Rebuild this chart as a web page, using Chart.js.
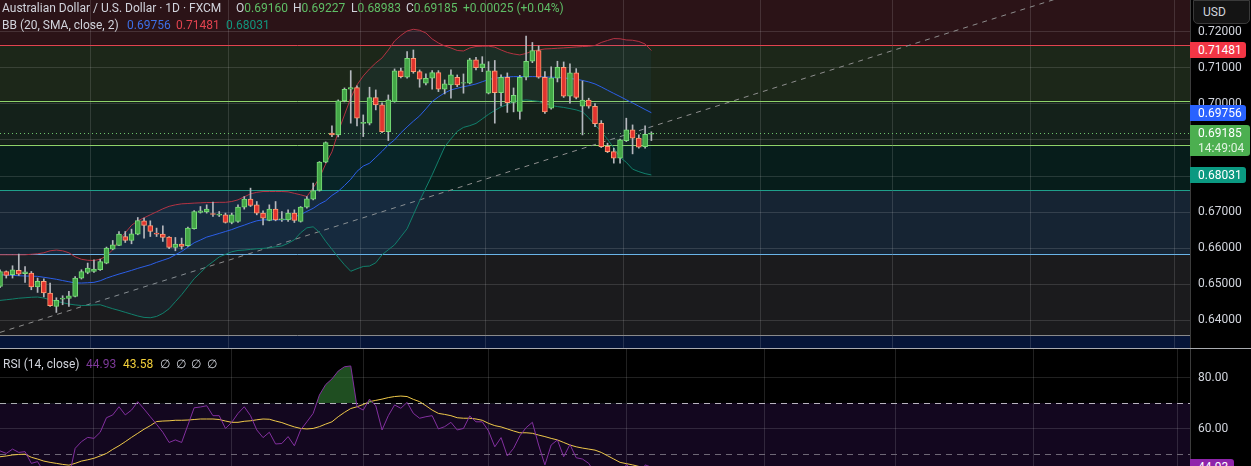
<!DOCTYPE html>
<html>
<head>
<meta charset="utf-8">
<script src="https://cdn.jsdelivr.net/npm/chart.js@4.4.0/dist/chart.umd.min.js"></script>
<style>
  body { margin: 0; background: #000; width: 1251px; height: 466px; overflow: hidden; position: relative; font-family: Roboto, "Noto Sans", sans-serif; }
  #main { position: absolute; left: 0; top: 0; }
  #rsi { position: absolute; left: 0; top: 349px; }
  #sep { position: absolute; left: 0; top: 348px; width: 1251px; height: 1px; background: #a9abb0; }
  .txt { position: absolute; font-size: 12px; line-height: 16px; color: #d1d4dc; white-space: pre; }
  .tag { position: absolute; left: 1190px; width: 56px; box-sizing: border-box; padding-left: 8px; font-size: 12px; line-height: 16px; color: #fff; border-radius: 0 3px 3px 0; }
  #usd { position: absolute; left: 1193px; top: 0; width: 57px; height: 24px; box-sizing: border-box; background: #141414; border: 1px solid #3a3a3a; border-radius: 0 0 5px 5px; color: #d1d4dc; font-size: 12px; line-height: 22px; padding-left: 9px; }
</style>
</head>
<body>
<canvas id="main" width="1251" height="348"></canvas>
<div id="sep"></div>
<canvas id="rsi" width="1251" height="117"></canvas>
<div id="usd">USD</div>
<script>
// daily slots: 105 sessions drawn, the rest is empty space on the right
const days = Array.from({ length: 191 }, (_, i) => String(i));
const monthStarts = [15, 37, 58, 78, 100, 122, 143, 165, 188];

const opens = [
  0.64939, 0.65355, 0.65263, 0.65383, 0.65291, 0.65311, 0.64923, 0.65078, 0.64757, 0.64385,
  0.64590, 0.64607, 0.64662, 0.65172, 0.65327, 0.65355, 0.65402, 0.65588, 0.65975, 0.66075,
  0.66324, 0.66214, 0.66391, 0.66759, 0.66629, 0.66419, 0.66391, 0.66308, 0.66020, 0.66114,
  0.66067, 0.66538, 0.66989, 0.67009, 0.66961, 0.66917, 0.66925, 0.66712, 0.66740, 0.67139,
  0.67360, 0.67202, 0.66973, 0.66768, 0.67083, 0.66787, 0.66787, 0.66973, 0.66740, 0.67139,
  0.67360, 0.67599, 0.68385, 0.69189, 0.69141, 0.70083, 0.70407, 0.70452, 0.69460, 0.69466,
  0.70175, 0.69972, 0.69233, 0.70064, 0.70914, 0.70740, 0.71266, 0.70895, 0.70574, 0.70712,
  0.70867, 0.70407, 0.70526, 0.70740, 0.70574, 0.70574, 0.71219, 0.71006, 0.70297, 0.70914,
  0.70313, 0.70740, 0.70042, 0.69792, 0.70740, 0.71183, 0.71482, 0.70740, 0.69881, 0.70712,
  0.71017, 0.70213, 0.70859, 0.69936, 0.70103, 0.69936, 0.69460, 0.68823, 0.68679, 0.68496,
  0.68984, 0.69280, 0.69050, 0.68817, 0.69160
];
const highs = [
  0.65402, 0.65370, 0.65513, 0.65837, 0.65493, 0.65355, 0.65172, 0.65153, 0.65034, 0.64626,
  0.64682, 0.64801, 0.65216, 0.65402, 0.65588, 0.65679, 0.65698, 0.66031, 0.66214, 0.66463,
  0.66463, 0.66529, 0.66851, 0.66834, 0.66759, 0.66557, 0.66621, 0.66324, 0.66297, 0.66280,
  0.66585, 0.67045, 0.67155, 0.67202, 0.67277, 0.67017, 0.66973, 0.66973, 0.67202, 0.67432,
  0.67665, 0.67294, 0.67036, 0.67202, 0.67294, 0.67017, 0.67064, 0.67064, 0.67155, 0.67432,
  0.67804, 0.68402, 0.68948, 0.69391, 0.70111, 0.70443, 0.70923, 0.70499, 0.69695, 0.70463,
  0.70388, 0.70028, 0.70249, 0.70970, 0.70997, 0.71449, 0.71496, 0.70942, 0.70831, 0.70923,
  0.70923, 0.70665, 0.70942, 0.70803, 0.70831, 0.71266, 0.71294, 0.71310, 0.71172, 0.71205,
  0.70803, 0.70859, 0.70443, 0.70790, 0.71884, 0.71704, 0.71607, 0.70895, 0.71025, 0.71183,
  0.71164, 0.71108, 0.70978, 0.70637, 0.70158, 0.70006, 0.69538, 0.68912, 0.68773, 0.69022,
  0.69604, 0.69418, 0.69141, 0.69391, 0.69227
];
const lows = [
  0.64903, 0.65172, 0.65172, 0.65244, 0.65050, 0.64848, 0.64773, 0.64646, 0.64385, 0.64219,
  0.64432, 0.64385, 0.64646, 0.65144, 0.65291, 0.65327, 0.65383, 0.65568, 0.65956, 0.66067,
  0.66158, 0.66122, 0.66371, 0.66280, 0.66324, 0.66324, 0.66186, 0.65984, 0.65928, 0.65975,
  0.66047, 0.66529, 0.66973, 0.66973, 0.66878, 0.66878, 0.66696, 0.66676, 0.66712, 0.67083,
  0.67155, 0.66925, 0.66648, 0.66759, 0.66759, 0.66740, 0.66740, 0.66712, 0.66723, 0.67111,
  0.67341, 0.67582, 0.68366, 0.69094, 0.69086, 0.70056, 0.69466, 0.69391, 0.69094, 0.69418,
  0.69834, 0.69205, 0.68984, 0.70047, 0.70720, 0.70712, 0.70851, 0.70463, 0.70526, 0.70407,
  0.70341, 0.70277, 0.70158, 0.70479, 0.70297, 0.70554, 0.70942, 0.70895, 0.70277, 0.69466,
  0.69945, 0.69765, 0.69779, 0.69576, 0.70665, 0.71144, 0.70712, 0.69737, 0.69853, 0.70610,
  0.70180, 0.70020, 0.70139, 0.69141, 0.69881, 0.69371, 0.68790, 0.68651, 0.68358, 0.68358,
  0.68956, 0.68615, 0.68773, 0.68773, 0.68983
];
const closes = [
  0.65355, 0.65244, 0.65402, 0.65283, 0.65347, 0.64923, 0.65078, 0.64757, 0.64405, 0.64552,
  0.64618, 0.64682, 0.65172, 0.65355, 0.65449, 0.65421, 0.65632, 0.66003, 0.66094, 0.66391,
  0.66214, 0.66399, 0.66768, 0.66629, 0.66463, 0.66391, 0.66297, 0.66020, 0.66114, 0.66047,
  0.66557, 0.67017, 0.67036, 0.67083, 0.66934, 0.66945, 0.66712, 0.66925, 0.67139, 0.67360,
  0.67183, 0.66973, 0.66834, 0.67083, 0.66787, 0.66815, 0.66973, 0.66768, 0.67139, 0.67369,
  0.67599, 0.68385, 0.68928, 0.69141, 0.70083, 0.70407, 0.70452, 0.69604, 0.69488, 0.70175,
  0.69972, 0.69233, 0.70111, 0.70914, 0.70756, 0.71266, 0.70895, 0.70684, 0.70712, 0.70867,
  0.70407, 0.70554, 0.70803, 0.70526, 0.70590, 0.71219, 0.71006, 0.71108, 0.70914, 0.70313,
  0.70740, 0.70036, 0.70236, 0.70740, 0.71183, 0.71482, 0.70740, 0.69779, 0.70726, 0.71017,
  0.70213, 0.70859, 0.70180, 0.70103, 0.69936, 0.69455, 0.68817, 0.68679, 0.68496, 0.69003,
  0.69280, 0.69050, 0.68801, 0.69160, 0.69185
];

// Bollinger Bands (20, SMA, close, 2)
const bbUpper = [
  0.65817, 0.65817, 0.65817, 0.65817, 0.65817, 0.65831, 0.65845, 0.65873, 0.65928, 0.65948,
  0.65928, 0.65873, 0.65762, 0.65693, 0.65665, 0.65660, 0.65693, 0.65790, 0.65956, 0.66233,
  0.66427, 0.66635, 0.66759, 0.66842, 0.66926, 0.67009, 0.67092, 0.67161, 0.67202, 0.67230,
  0.67239, 0.67250, 0.67258, 0.67266, 0.67266, 0.67272, 0.67272, 0.67294, 0.67341, 0.67424,
  0.67507, 0.67549, 0.67571, 0.67571, 0.67571, 0.67571, 0.67563, 0.67521, 0.67480, 0.67433,
  0.67673, 0.67950, 0.68338, 0.68671, 0.69225, 0.69696, 0.70166, 0.70527, 0.70776, 0.70970,
  0.71136, 0.71275, 0.71496, 0.71745, 0.71898, 0.72022, 0.72069, 0.72042, 0.71967, 0.71801,
  0.71690, 0.71607, 0.71551, 0.71482, 0.71468, 0.71551, 0.71593, 0.71598, 0.71601, 0.71574,
  0.71496, 0.71427, 0.71385, 0.71358, 0.71399, 0.71468, 0.71496, 0.71524, 0.71532, 0.71543,
  0.71554, 0.71565, 0.71579, 0.71590, 0.71598, 0.71620, 0.71704, 0.71759, 0.71812, 0.71806,
  0.71773, 0.71765, 0.71731, 0.71662, 0.71481
];
const bbBasis = [
  0.65263, 0.65255, 0.65247, 0.65236, 0.65230, 0.65225, 0.65219, 0.65194, 0.65167, 0.65139,
  0.65103, 0.65070, 0.65036, 0.65034, 0.65042, 0.65053, 0.65097, 0.65169, 0.65228, 0.65283,
  0.65333, 0.65385, 0.65441, 0.65491, 0.65540, 0.65607, 0.65665, 0.65723, 0.65817, 0.65909,
  0.66028, 0.66150, 0.66227, 0.66308, 0.66358, 0.66410, 0.66463, 0.66516, 0.66582, 0.66640,
  0.66704, 0.66759, 0.66787, 0.66787, 0.66787, 0.66787, 0.66798, 0.66865, 0.66931, 0.67020,
  0.67106, 0.67222, 0.67313, 0.67463, 0.67576, 0.67737, 0.67909, 0.68131, 0.68277, 0.68355,
  0.68518, 0.68685, 0.68865, 0.69003, 0.69197, 0.69363, 0.69521, 0.69668, 0.69862, 0.70064,
  0.70194, 0.70305, 0.70388, 0.70435, 0.70477, 0.70510, 0.70554, 0.70615, 0.70676, 0.70709,
  0.70740, 0.70748, 0.70757, 0.70757, 0.70757, 0.70757, 0.70757, 0.70748, 0.70743, 0.70731,
  0.70720, 0.70704, 0.70684, 0.70651, 0.70610, 0.70554, 0.70471, 0.70380, 0.70291, 0.70205,
  0.70114, 0.70028, 0.69937, 0.69845, 0.69756
];
const bbLower = [
  0.64552, 0.64571, 0.64590, 0.64613, 0.64626, 0.64640, 0.64646, 0.64618, 0.64571, 0.64530,
  0.64488, 0.64452, 0.64427, 0.64411, 0.64413, 0.64427, 0.64432, 0.64377, 0.64322, 0.64275,
  0.64222, 0.64170, 0.64120, 0.64081, 0.64072, 0.64108, 0.64194, 0.64322, 0.64516, 0.64710,
  0.64931, 0.65153, 0.65319, 0.65493, 0.65624, 0.65757, 0.65829, 0.65901, 0.65937, 0.65948,
  0.65967, 0.65984, 0.65995, 0.66011, 0.66039, 0.66061, 0.66136, 0.66233, 0.66427, 0.66565,
  0.66593, 0.66441, 0.66191, 0.65970, 0.65748, 0.65540, 0.65360, 0.65430, 0.65493, 0.65505,
  0.65596, 0.65817, 0.65956, 0.66094, 0.66316, 0.66538, 0.66926, 0.67313, 0.67673, 0.68034,
  0.68421, 0.68809, 0.69030, 0.69238, 0.69349, 0.69396, 0.69460, 0.69585, 0.69710, 0.69820,
  0.69917, 0.69981, 0.70064, 0.70089, 0.70111, 0.70092, 0.70070, 0.70014, 0.69959, 0.69926,
  0.69903, 0.69870, 0.69834, 0.69779, 0.69612, 0.69418, 0.69230, 0.69017, 0.68781, 0.68518,
  0.68380, 0.68191, 0.68122, 0.68067, 0.68031
];

// RSI (14, close) and its moving average
const rsi = [
  51.3, 50.3, 52.0, 50.7, 51.0, 46.4, 47.1, 43.0, 37.5, 39.0,
  40.0, 41.0, 52.3, 54.9, 56.6, 56.2, 58.6, 64.3, 65.4, 68.6,
  65.4, 67.3, 70.6, 67.7, 64.7, 61.7, 58.6, 54.6, 55.6, 54.6,
  61.4, 68.2, 68.5, 69.0, 65.1, 65.1, 60.1, 62.5, 66.0, 68.6,
  65.1, 59.5, 56.5, 58.6, 54.0, 54.2, 56.9, 53.3, 59.5, 62.7,
  66.0, 73.2, 77.3, 79.5, 82.6, 84.3, 84.6, 68.6, 67.3, 71.6,
  69.0, 59.5, 65.1, 69.3, 68.0, 70.3, 66.0, 64.1, 64.7, 65.1,
  59.9, 60.8, 62.5, 59.5, 60.1, 65.0, 62.7, 62.7, 59.1, 52.9,
  56.5, 49.3, 52.3, 57.2, 60.4, 62.5, 53.6, 45.8, 53.6, 55.6,
  49.0, 53.8, 48.6, 48.1, 46.4, 42.5, 36.0, 34.5, 31.5, 40.5,
  46.0, 43.5, 39.5, 45.8, 44.93
];
const rsiMa = [
  49.0, 49.3, 49.7, 49.9, 50.0, 48.8, 48.1, 47.3, 46.8, 46.4,
  46.0, 45.7, 46.4, 47.3, 47.8, 48.4, 49.3, 50.3, 51.9, 53.3,
  54.9, 56.6, 58.2, 59.8, 61.2, 62.8, 63.0, 63.1, 63.3, 63.3,
  63.4, 63.6, 63.8, 63.8, 63.8, 63.6, 63.0, 62.5, 62.5, 62.9,
  63.1, 63.5, 63.8, 63.7, 63.0, 62.4, 61.5, 60.7, 60.1, 59.9,
  60.1, 60.8, 61.8, 62.7, 64.7, 66.4, 67.9, 68.6, 69.5, 70.6,
  71.1, 71.6, 72.2, 72.6, 72.8, 72.6, 71.5, 70.6, 69.0, 67.3,
  66.0, 65.6, 65.1, 64.3, 64.1, 64.1, 63.8, 63.3, 62.1, 61.2,
  60.7, 59.9, 59.1, 58.4, 58.4, 58.2, 57.5, 56.9, 56.2, 55.6,
  54.6, 53.6, 52.9, 52.4, 52.0, 51.6, 50.7, 49.4, 48.1, 46.8,
  46.3, 45.8, 45.2, 44.4, 43.58
];

// drawn levels, trend line, axis ticks
const levelPrices = [0.71634, 0.70083, 0.68865, 0.67610, 0.65837, 0.63582];
const trendStart = 0.63665;
const trendEnd = 0.74083;
const priceTicks = [0.64, 0.65, 0.66, 0.67, 0.68, 0.69, 0.70, 0.71, 0.72];
const rsiTicks = [60, 80];
const timeLeft = '14:49:04';

// styles
const levelColors = ['#e2434f', '#8fd36a', '#8fd36a', '#1f9f8b', '#6ab4e8', '#8a8a8a'];
const bandColors = ['#2b1317', '#1c2719', '#14211a', '#071d1b', '#162433', '#1b1b1d', '#061538'];
const gridColor = 'rgba(255,255,255,0.13)';
const font = { family: 'Roboto, "Noto Sans", sans-serif', size: 12 };

const last = closes.length - 1;
const up = closes.map((c, i) => c >= opens[i]);
const trend = days.map((d, i) => i === 0 ? trendStart : (i === days.length - 1 ? trendEnd : null));

// the scales must fill the canvas exactly, no label padding
const noPad = (s) => { s.paddingTop = 0; s.paddingBottom = 0; s.paddingLeft = 0; s.paddingRight = 0; };

const xScale = {
  offset: false,
  ticks: { display: false, autoSkip: false },
  grid: { drawTicks: false, color: (c) => monthStarts.includes(c.index) ? gridColor : 'transparent' },
  border: { display: false },
  afterFit: (s) => { s.height = 0; noPad(s); },
};

const bands = {
  id: 'bands',
  beforeDraw(chart) {
    const { ctx, chartArea: a, scales: { y } } = chart;
    const edges = [a.top, ...levelPrices.map((v) => y.getPixelForValue(v)), a.bottom];
    ctx.save();
    bandColors.forEach((c, i) => {
      ctx.fillStyle = c;
      ctx.fillRect(a.left, edges[i], a.width, edges[i + 1] - edges[i]);
    });
    ctx.restore();
  },
  beforeDatasetsDraw(chart) {
    const { ctx, chartArea: a, scales: { y } } = chart;
    ctx.save();
    ctx.lineWidth = 1;
    levelPrices.forEach((v, i) => {
      const py = Math.round(y.getPixelForValue(v)) + 0.5;
      ctx.strokeStyle = levelColors[i];
      ctx.beginPath(); ctx.moveTo(a.left, py); ctx.lineTo(a.right, py); ctx.stroke();
    });
    // last price line
    const py = Math.round(y.getPixelForValue(closes[last])) + 0.5;
    ctx.strokeStyle = '#6cc36c';
    ctx.setLineDash([1, 3]);
    ctx.beginPath(); ctx.moveTo(a.left, py); ctx.lineTo(a.right, py); ctx.stroke();
    ctx.restore();
  },
};

const mainChart = new Chart(document.getElementById('main'), {
  type: 'bar',
  data: {
    labels: days,
    datasets: [
      { type: 'line', data: trend, borderColor: '#8e8e8e', borderWidth: 1, borderDash: [5, 5], pointRadius: 0, spanGaps: true, order: 6 },
      { type: 'line', data: bbUpper, borderColor: '#b8313f', borderWidth: 1, pointRadius: 0, fill: false, order: 5 },
      { type: 'line', data: bbBasis, borderColor: '#2c5fe8', borderWidth: 1, pointRadius: 0, fill: false, order: 3 },
      { type: 'line', data: bbLower, borderColor: '#12806c', borderWidth: 1, pointRadius: 0, fill: { target: 1 }, backgroundColor: 'rgba(33,150,243,0.06)', order: 4 },
      { data: lows.map((l, i) => [l, highs[i]]), backgroundColor: '#b4b7bd', barThickness: 1, grouped: false, order: 1 },
      {
        data: opens.map((o, i) => [o, closes[i]]),
        backgroundColor: up.map((u) => u ? '#43a647' : '#e2332f'),
        borderColor: up.map((u) => u ? '#78dc78' : '#ff9c72'),
        borderWidth: 1, borderSkipped: false, barThickness: 5, grouped: false, order: 0,
      },
    ],
  },
  options: {
    responsive: false, animation: false, events: [],
    layout: { padding: 0 },
    plugins: { legend: { display: false }, tooltip: { enabled: false } },
    scales: {
      x: xScale,
      y: {
        position: 'right', min: 0.63233, max: 0.72881,
        afterBuildTicks: (s) => { s.ticks = priceTicks.map((v) => ({ value: v })); },
        afterFit: (s) => { s.width = 61; noPad(s); },
        grid: { color: gridColor, drawTicks: false },
        border: { color: '#3c3c3c' },
        ticks: { color: '#d1d4dc', font, padding: 8, callback: (v) => v.toFixed(5) },
      },
    },
  },
  plugins: [bands],
});

const rsiBands = {
  id: 'rsiBands',
  beforeDraw(chart) {
    const { ctx, chartArea: a, scales: { y } } = chart;
    const top = y.getPixelForValue(70);
    ctx.save();
    ctx.fillStyle = '#13071f';
    ctx.fillRect(a.left, top, a.width, a.bottom - top);
    ctx.restore();
  },
  beforeDatasetsDraw(chart) {
    const { ctx, chartArea: a, scales: { y } } = chart;
    ctx.save();
    ctx.lineWidth = 1;
    ctx.setLineDash([6, 5]);
    [[70, '#b9b4c0'], [50, '#6e6776']].forEach(([v, c]) => {
      const py = Math.round(y.getPixelForValue(v)) + 0.5;
      ctx.strokeStyle = c;
      ctx.beginPath(); ctx.moveTo(a.left, py); ctx.lineTo(a.right, py); ctx.stroke();
    });
    ctx.restore();
  },
};

const rsiChart = new Chart(document.getElementById('rsi'), {
  type: 'line',
  data: {
    labels: days,
    datasets: [
      { data: rsiMa, borderColor: '#efc94a', borderWidth: 1, pointRadius: 0, fill: false, order: 1 },
      {
        data: rsi, borderColor: '#83309f', borderWidth: 1, pointRadius: 0, order: 0,
        fill: { target: { value: 70 }, above: 'rgba(56,142,60,0.55)', below: 'transparent' },
      },
    ],
  },
  options: {
    responsive: false, animation: false, events: [],
    layout: { padding: 0 },
    plugins: { legend: { display: false }, tooltip: { enabled: false } },
    scales: {
      x: xScale,
      y: {
        position: 'right', min: 45.37, max: 91.25,
        afterBuildTicks: (s) => { s.ticks = rsiTicks.map((v) => ({ value: v })); },
        afterFit: (s) => { s.width = 61; noPad(s); },
        grid: { color: gridColor, drawTicks: false },
        border: { color: '#3c3c3c' },
        ticks: { color: '#d1d4dc', font, padding: 8, callback: (v) => v.toFixed(2) },
      },
    },
  },
  plugins: [rsiBands],
});

// text overlays
function put(html, left, top, cls) {
  const d = document.createElement('div');
  d.className = cls || 'txt';
  d.style.left = left + 'px';
  d.style.top = top + 'px';
  d.innerHTML = html;
  document.body.appendChild(d);
  return d;
}
const f5 = (v) => v.toFixed(5);
const green = '#5fbf66';
const chg = closes[last] - closes[last - 1];
put('Australian Dollar / U.S. Dollar · 1D · FXCM', 2, 0);
put(`O<span style="color:${green}">${f5(opens[last])}</span>`, 236, 0);
put(`H<span style="color:${green}">${f5(highs[last])}</span>`, 293, 0);
put(`L<span style="color:${green}">${f5(lows[last])}</span>`, 351, 0);
put(`C<span style="color:${green}">${f5(closes[last])}</span>`, 406, 0);
put(`<span style="color:${green}">+${f5(chg)} (+${(chg / closes[last - 1] * 100).toFixed(2)}%)</span>`, 463, 0);
put('BB (20, SMA, close, 2)', 2, 17);
put(`<span style="color:#3d6fe6">${f5(bbBasis[last])}</span>`, 127, 17);
put(`<span style="color:#e2434f">${f5(bbUpper[last])}</span>`, 176, 17);
put(`<span style="color:#12957e">${f5(bbLower[last])}</span>`, 226, 17);
put('RSI (14, close)', 3, 356);
put(`<span style="color:#7e3a9a">${rsi[last].toFixed(2)}</span>`, 86, 356);
put(`<span style="color:#f2cf3a">${rsiMa[last].toFixed(2)}</span>`, 123, 356);
['∅', '∅', '∅', '∅'].forEach((s, i) => put(s, 160 + i * 15.5, 356));

const yMain = mainChart.scales.y;
function tag(value, bg, extra) {
  const d = put(f5(value) + (extra ? '<br>' + extra : ''), 1190, 0, 'tag');
  d.style.background = bg;
  const h = extra ? 31 : 16;
  d.style.height = h + 'px';
  if (extra) { d.style.width = '60px'; d.style.lineHeight = '15px'; d.style.paddingTop = '1px'; }
  d.style.top = (yMain.getPixelForValue(value) - 8) + 'px';
  return d;
}
tag(bbUpper[last], '#f23645');
tag(bbBasis[last], '#2962ff');
tag(closes[last], '#4caf50', '<span style="color:#dff3df">' + timeLeft + '</span>');
tag(bbLower[last], '#0b9981');
const r = put(rsi[last].toFixed(2), 1190, 349 + rsiChart.scales.y.getPixelForValue(rsi[last]) - 8, 'tag');
r.style.background = '#8e24aa';
r.style.width = '44px';
r.style.height = '16px';
</script>
</body>
</html>
